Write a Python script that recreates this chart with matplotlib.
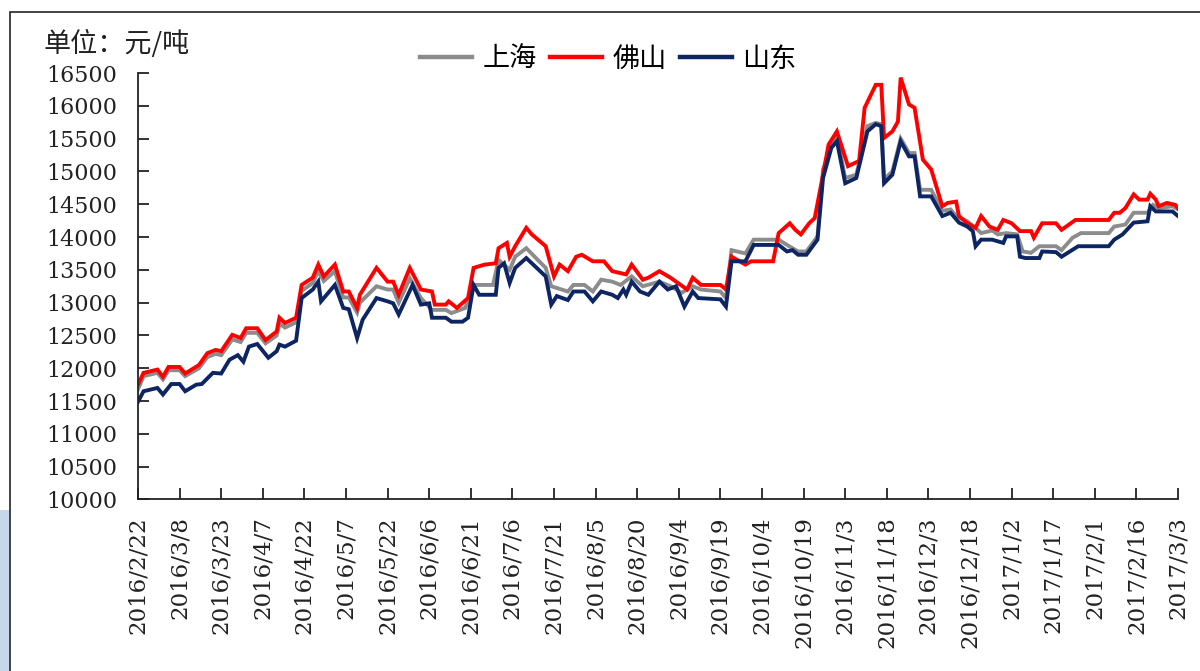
import pandas as pd
import matplotlib
matplotlib.use('Agg')
import matplotlib.pyplot as plt
from matplotlib.patches import Rectangle

start = pd.Timestamp('2016-02-22')
end = pd.Timestamp('2017-03-03')

# day offsets from 2016/2/22 and prices (yuan/ton)
sh_days = [0, 2, 7, 9, 11, 15, 17, 22, 25, 28, 30, 34, 37, 39, 43, 46, 50, 51, 53, 57,
           59, 63, 65, 67, 71, 74, 76, 79, 80, 86, 90, 92, 94, 98, 102, 106, 111, 113, 118, 121,
           128, 130, 134, 136, 140, 147, 149, 155, 157, 161, 164, 167, 171, 174, 178, 182, 188, 192, 196, 200,
           203, 210, 212, 214, 219, 222, 231, 234, 238, 241, 245, 247, 250, 252, 255, 259, 263, 266, 268, 269,
           272, 275, 278, 280, 282, 286, 290, 293, 295, 299, 302, 304, 308, 310, 313, 317, 319, 322, 325, 331,
           333, 337, 340, 350, 352, 356, 359, 364, 366, 368, 373, 375]
sh_vals = [11680, 11880, 11930, 11830, 11970, 11970, 11880, 12000, 12170, 12220, 12200, 12440, 12400, 12540, 12540, 12380, 12500, 12680, 12620, 12700,
           13180, 13300, 13480, 13330, 13480, 13080, 13080, 12850, 13000, 13250, 13200, 13200, 13000, 13370, 13070, 12890, 12890, 12840, 12920, 13270,
           13270, 13650, 13500, 13700, 13830, 13530, 13250, 13170, 13270, 13270, 13170, 13350, 13320, 13270, 13400, 13250, 13320, 13250, 13150, 13250,
           13200, 13170, 13070, 13800, 13750, 13960, 13960, 13880, 13780, 13780, 14010, 15030, 15400, 15540, 14900, 14950, 15690, 15740, 15720, 14880,
           15000, 15500, 15280, 15280, 14720, 14720, 14400, 14420, 14320, 14240, 14140, 14060, 14100, 14040, 14060, 14040, 13780, 13760, 13860, 13860,
           13800, 13990, 14060, 14060, 14160, 14190, 14370, 14370, 14490, 14440, 14470, 14420]

fs_days = [0, 2, 7, 9, 11, 15, 17, 22, 25, 28, 30, 34, 37, 39, 43, 46, 50, 51, 53, 57,
           59, 63, 65, 67, 71, 74, 76, 79, 80, 86, 90, 92, 94, 98, 102, 106, 107, 111, 112, 115,
           119, 121, 125, 129, 130, 133, 134, 136, 140, 142, 147, 150, 152, 155, 158, 160, 164, 168, 171, 176,
           178, 182, 184, 188, 192, 198, 200, 203, 210, 212, 214, 219, 221, 229, 231, 235, 237, 239, 242, 244,
           247, 249, 252, 256, 260, 262, 266, 268, 269, 272, 274, 275, 278, 280, 283, 286, 290, 292, 295, 296,
           299, 302, 304, 307, 310, 312, 315, 318, 322, 323, 326, 331, 333, 338, 350, 352, 354, 356, 359, 361,
           364, 365, 367, 368, 371, 374, 375]
fs_vals = [11750, 11930, 11980, 11870, 12020, 12020, 11920, 12050, 12230, 12280, 12260, 12510, 12460, 12610, 12610, 12430, 12560, 12770, 12690, 12770,
           13270, 13380, 13580, 13400, 13580, 13170, 13170, 12920, 13120, 13530, 13320, 13320, 13120, 13530, 13200, 13170, 12970, 12970, 13020, 12920,
           13070, 13530, 13580, 13600, 13830, 13910, 13700, 13860, 14140, 14040, 13860, 13400, 13580, 13480, 13700, 13730, 13630, 13630, 13480, 13430,
           13580, 13350, 13380, 13480, 13380, 13200, 13380, 13270, 13270, 13200, 13700, 13580, 13630, 13630, 14060, 14210, 14110, 14040, 14210, 14290,
           14950, 15410, 15610, 15080, 15160, 15970, 16320, 16320, 15510, 15610, 15760, 16430, 16020, 15970, 15180, 15030, 14470, 14520, 14540, 14320,
           14210, 14140, 14320, 14160, 14110, 14260, 14210, 14090, 14090, 13990, 14210, 14210, 14110, 14260, 14260, 14370, 14370, 14440, 14650, 14570,
           14570, 14660, 14570, 14470, 14520, 14490, 14440]

sd_days = [0, 2, 7, 9, 12, 15, 17, 21, 23, 27, 30, 33, 36, 38, 40, 43, 47, 50, 51, 53,
           57, 59, 63, 65, 66, 71, 74, 76, 79, 81, 86, 90, 92, 94, 99, 102, 105, 106, 111, 113,
           117, 119, 121, 123, 129, 130, 132, 134, 136, 140, 147, 149, 151, 155, 157, 161, 164, 167, 171, 173,
           175, 176, 178, 181, 184, 188, 191, 194, 197, 200, 202, 210, 212, 214, 219, 222, 231, 234, 236, 238,
           241, 245, 247, 250, 252, 255, 259, 263, 266, 268, 269, 272, 275, 278, 280, 282, 286, 290, 293, 296,
           299, 301, 302, 304, 308, 312, 313, 317, 318, 320, 325, 326, 331, 333, 336, 339, 350, 352, 355, 359,
           364, 365, 367, 373, 375]
sd_vals = [11490, 11650, 11700, 11600, 11760, 11760, 11650, 11750, 11760, 11930, 11920, 12130, 12200, 12100, 12330, 12370, 12160, 12260, 12360, 12330,
           12420, 13070, 13200, 13320, 13020, 13270, 12920, 12900, 12460, 12740, 13070, 13020, 12990, 12820, 13270, 12970, 12990, 12770, 12770, 12710,
           12710, 12770, 13270, 13120, 13120, 13530, 13600, 13300, 13530, 13680, 13400, 12970, 13100, 13040, 13170, 13170, 13020, 13170, 13120, 13070,
           13200, 13120, 13320, 13170, 13120, 13320, 13200, 13250, 12940, 13170, 13070, 13050, 12940, 13630, 13630, 13880, 13880, 13780, 13800, 13730,
           13730, 13960, 14900, 15360, 15460, 14820, 14900, 15610, 15720, 15690, 14820, 14950, 15460, 15230, 15230, 14620, 14620, 14320, 14370, 14220,
           14160, 14090, 13860, 13960, 13960, 13910, 14010, 14010, 13700, 13680, 13680, 13780, 13770, 13700, 13780, 13860, 13860, 13960, 14040, 14220,
           14240, 14470, 14390, 14390, 14320]

series = [('上海', sh_days, sh_vals, '#8c8c8c'),
          ('佛山', fs_days, fs_vals, '#ff0000'),
          ('山东', sd_days, sd_vals, '#0d2563')]

cjk = ['Noto Sans CJK SC', 'DejaVu Sans']

fig = plt.figure(figsize=(12, 6.71), dpi=100)
ax = fig.add_axes([0.115, 0.2556, 0.8667, 0.6356])

for name, days, vals, color in series:
    dates = start + pd.to_timedelta(days, unit='D')
    ax.plot(dates, vals, color=color, lw=2.8, label=name, solid_joinstyle='miter')

ax.set_xlim(start, end)
ax.set_ylim(10000, 16500)
ax.set_yticks(range(10000, 16501, 500))

ticks = pd.date_range(start, end, freq='15D')
ax.set_xticks(ticks)
ax.set_xticklabels([f'{t.year}/{t.month}/{t.day}' for t in ticks], rotation=90,
                   fontfamily='DejaVu Serif', fontsize=16.5, color='#222222')
for lab in ax.get_yticklabels():
    lab.set_fontfamily('DejaVu Serif')
    lab.set_fontsize(16)
    lab.set_color('#222222')

ax.tick_params(axis='both', direction='in', length=8, width=1.3, color='#222222')
ax.tick_params(axis='x', pad=12)
ax.tick_params(axis='y', pad=15)
for side in ['top', 'right']:
    ax.spines[side].set_visible(False)
for side in ['left', 'bottom']:
    ax.spines[side].set_linewidth(1.3)
    ax.spines[side].set_color('#222222')

fig.text(0.036, 0.935, '单位：元/吨', family=cjk, fontsize=19.5, color='#222222',
         ha='left', va='center')

fig.legend(loc='center', bbox_to_anchor=(0.507, 0.912), ncol=3, frameon=False,
           prop={'family': cjk, 'size': 19.5}, handlelength=1.9, handletextpad=0.4,
           columnspacing=0.5)
leg = fig.legends[0]
for line in leg.get_lines():
    line.set_linewidth(3.2)

# outer frame and the little blue patch at the bottom left
fig.patches.append(Rectangle((10 / 1200, -0.1), 1.2, 1.1 - 12 / 671, transform=fig.transFigure,
                             fill=False, ec='#222222', lw=1.2))
fig.patches.append(Rectangle((0, 0), 9 / 1200, 161 / 671, transform=fig.transFigure,
                             fc='#c6d6eb', ec='none'))

fig.savefig('out.png', dpi=100)
